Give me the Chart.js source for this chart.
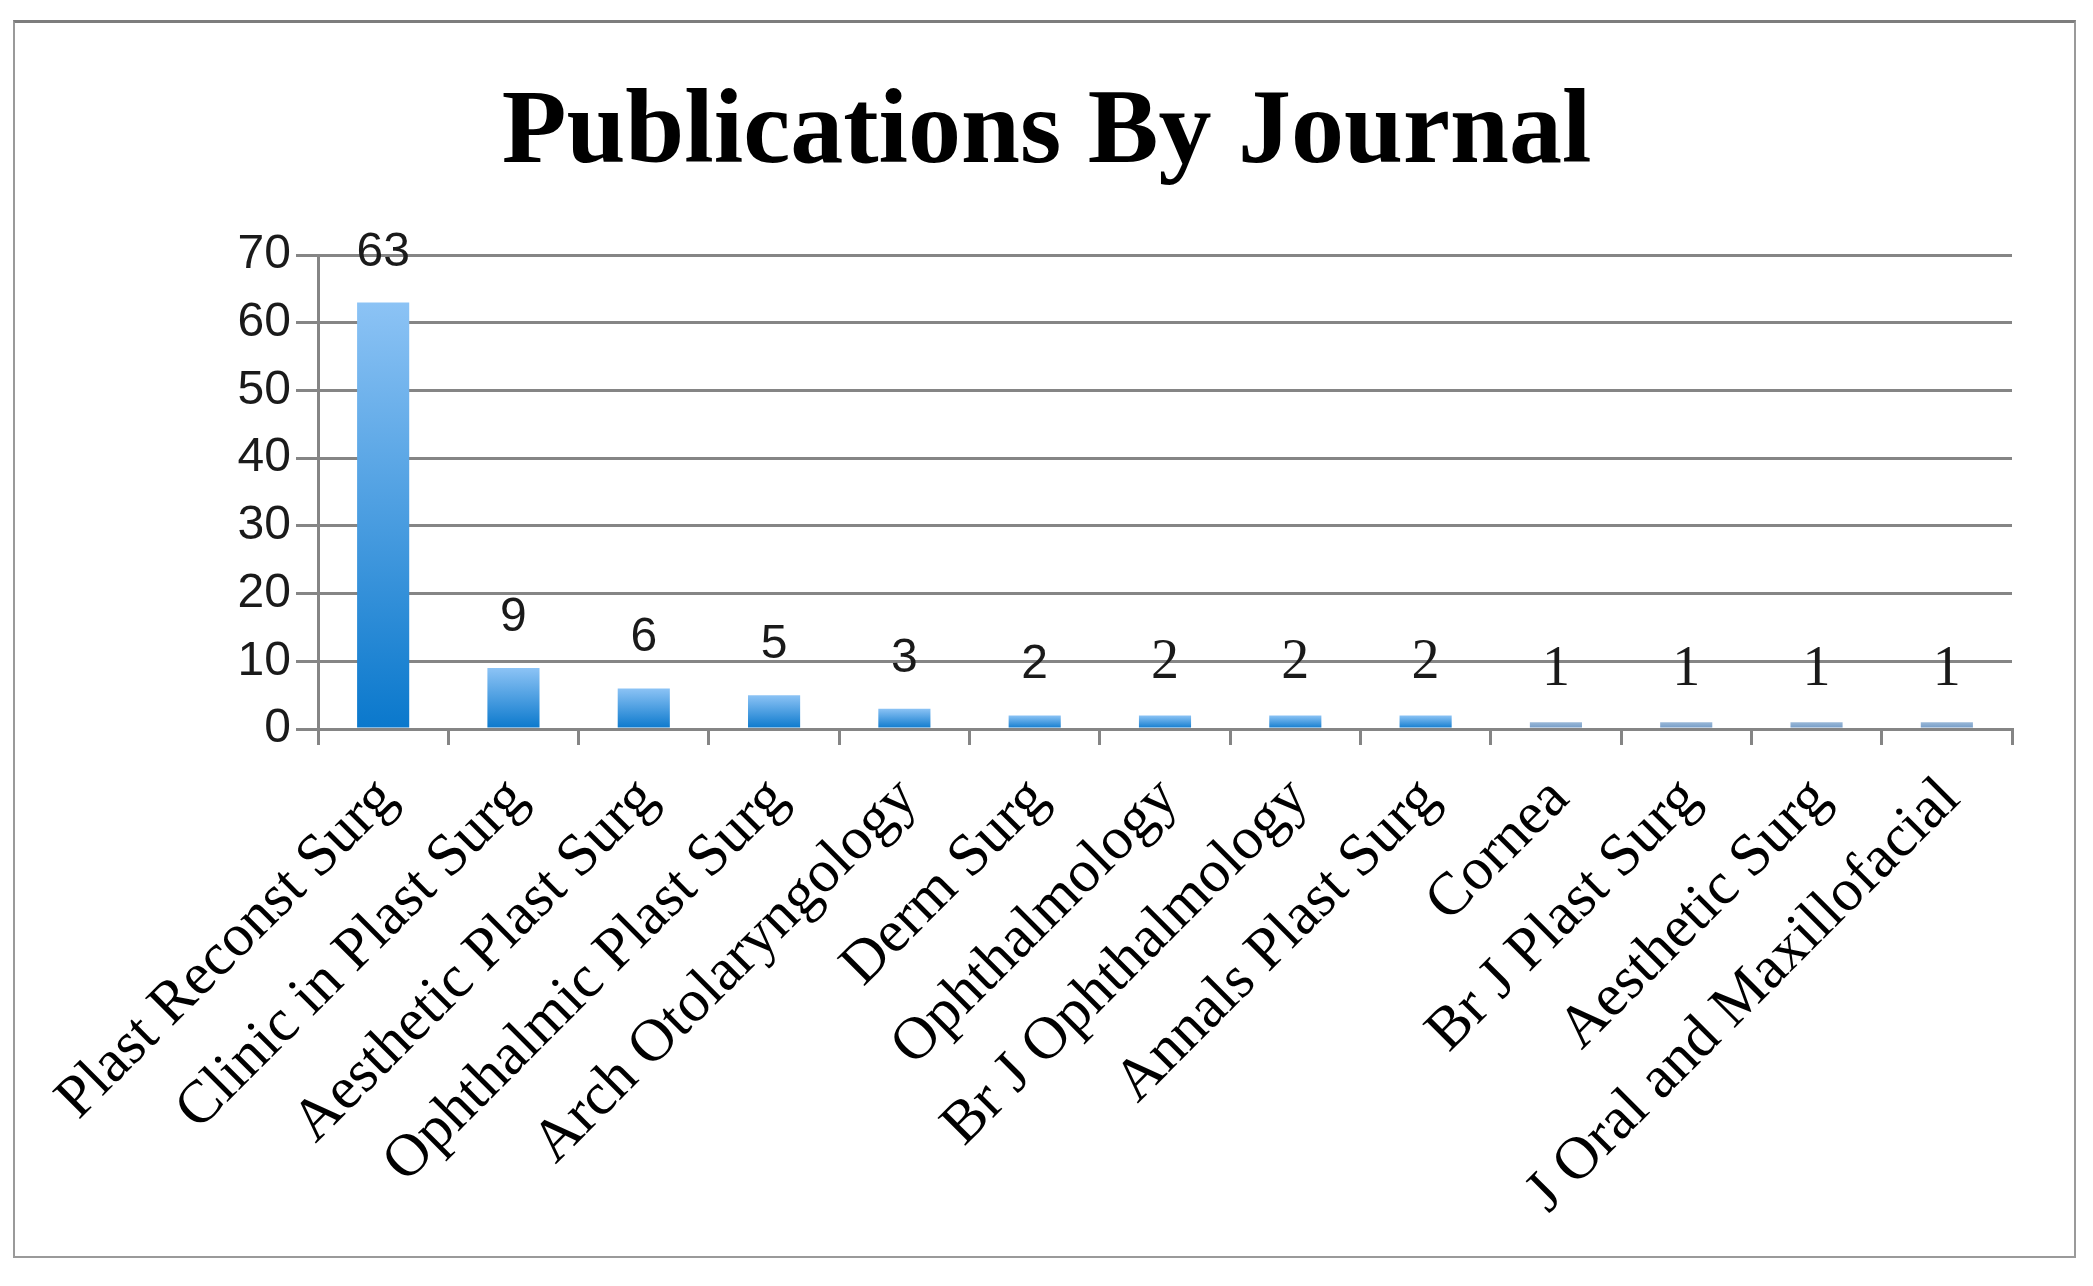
<!DOCTYPE html>
<html>
<head>
<meta charset="utf-8">
<script src="https://cdn.jsdelivr.net/npm/chart.js@4.4.1/dist/chart.umd.min.js"></script>
<style>
  html, body { margin: 0; padding: 0; background: #ffffff; }
  #wrap { position: relative; width: 2093px; height: 1286px; overflow: hidden; }
  #frame { position: absolute; left: 13px; top: 20px; width: 2059px; height: 1233px;
           border: 2px solid #9a9a9a; border-top: 3px solid #7d7d7d; box-sizing: content-box; }
  canvas { position: absolute; left: 0; top: 0; }
</style>
</head>
<body>
<div id="wrap">
  <div id="frame"></div>
  <canvas id="c" width="2093" height="1286"></canvas>
</div>
<script>
// ---- data ----
const journals = [
  "Plast Reconst Surg", "Clinic in Plast Surg", "Aesthetic Plast Surg",
  "Ophthalmic Plast Surg", "Arch Otolaryngology", "Derm Surg", "Ophthalmology",
  "Br J Ophthalmology", "Annals Plast Surg", "Cornea", "Br J Plast Surg",
  "Aesthetic Surg", "J Oral and Maxillofacial"
];
const publications = [63, 9, 6, 5, 3, 2, 2, 2, 2, 1, 1, 1, 1];
const yTicks = [0, 10, 20, 30, 40, 50, 60, 70];
const chartTitle = "Publications By Journal";

// ---- styles (not data) ----
const sansFont = "'Liberation Sans', Arial, sans-serif";
const serifFont = "'Liberation Serif', 'Times New Roman', serif";
const gridColor = '#858585';

const valueLabels = {
  id: 'valueLabels',
  afterDatasetsDraw(chart) {
    const ctx = chart.ctx;
    const meta = chart.getDatasetMeta(0);
    ctx.save();
    ctx.fillStyle = '#1a1a1a';
    ctx.textAlign = 'center';
    ctx.textBaseline = 'alphabetic';
    meta.data.forEach((bar, i) => {
      const v = chart.data.datasets[0].data[i];
      ctx.font = (i < 6 ? "48px " + sansFont : "56px " + serifFont);
      ctx.fillText(String(v), bar.x, bar.y - 37);
    });
    ctx.restore();
  }
};

new Chart(document.getElementById('c'), {
  type: 'bar',
  data: {
    labels: journals,
    datasets: [{
      data: publications,
      barPercentage: 0.4,
      categoryPercentage: 1.0,
      borderWidth: 0,
      backgroundColor: (ctx) => {
        const chart = ctx.chart;
        if (!chart.chartArea || ctx.type !== 'data') return '#3a8fd8';
        const y = chart.scales.y;
        const top = y.getPixelForValue(ctx.parsed.y);
        const base = y.getPixelForValue(0);
        const g = chart.ctx.createLinearGradient(0, top, 0, base);
        if (ctx.parsed.y <= 1) {
          g.addColorStop(0, '#9ab8d8');
          g.addColorStop(1, '#6f98c4');
        } else {
          g.addColorStop(0, '#8cc3f5');
          g.addColorStop(1, '#0a78cc');
        }
        return g;
      }
    }]
  },
  options: {
    responsive: false,
    devicePixelRatio: 1,
    animation: false,
    layout: { padding: { left: 81, right: 81, top: 0, bottom: 0 } },
    plugins: {
      legend: { display: false },
      tooltip: { enabled: false },
      title: {
        display: true,
        text: chartTitle,
        color: '#000000',
        font: { family: serifFont, size: 106, weight: 'bold', lineHeight: 1.2 },
        padding: { top: 71, bottom: 57 }
      }
    },
    scales: {
      x: {
        grid: { display: true, drawOnChartArea: false, drawTicks: true, tickLength: 16,
                color: gridColor, lineWidth: 3, offset: true },
        border: { display: true, color: gridColor, width: 3 },
        ticks: { autoSkip: false, maxRotation: 45, minRotation: 45, color: '#000000',
                 font: { family: serifFont, size: 60 }, padding: 19, labelOffset: 4 },
        afterFit: (axis) => { axis.height = 1286 - 729; }
      },
      y: {
        min: 0, max: 70,
        afterBuildTicks: (axis) => { axis.ticks = yTicks.map(v => ({ value: v })); },
        grid: { color: gridColor, lineWidth: 3, tickLength: 22, drawTicks: true },
        border: { display: true, color: gridColor, width: 3 },
        ticks: { color: '#1a1a1a', font: { family: sansFont, size: 48 }, padding: 5 },
        afterFit: (axis) => { axis.width = 237; }
      }
    }
  },
  plugins: [valueLabels]
});
</script>
</body>
</html>
